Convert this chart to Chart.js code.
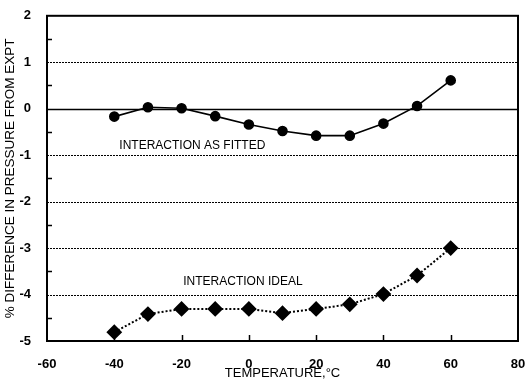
<!DOCTYPE html>
<html>
<head>
<meta charset="utf-8">
<script src="https://cdn.jsdelivr.net/npm/chart.js@4"></script>
<style>
  html, body { margin: 0; padding: 0; background: #fff; }
  #wrap { width: 527px; height: 382px; }
</style>
</head>
<body>
<div id="wrap"><canvas id="chart" width="527" height="382"></canvas></div>
<script>
  // data
  const temps = [-40, -30, -20, -10, 0, 10, 20, 30, 40, 50, 60];
  const fitted = [-0.17, 0.03, 0.01, -0.16, -0.34, -0.48, -0.58, -0.58, -0.32, 0.06, 0.61];
  const ideal = [-4.81, -4.42, -4.31, -4.31, -4.31, -4.40, -4.31, -4.21, -3.99, -3.59, -3.0];
  const xTicks = [-60, -40, -20, 0, 20, 40, 60, 80];
  const yTicks = [2, 1, 0, -1, -2, -3, -4, -5];
  const notes = [
    { text: 'INTERACTION AS FITTED', x: -38.5, y: -0.8 },
    { text: 'INTERACTION IDEAL', x: -19.5, y: -3.72 }
  ];

  const fontFam = '"Liberation Sans", Arial, sans-serif';
  const toPoints = vals => vals.map((v, i) => ({ x: temps[i], y: v }));

  // frame, grid lines, inner ticks and the two labels
  const framePlugin = {
    id: 'frame',
    beforeDatasetsDraw(chart) {
      const { ctx, chartArea: a, scales: { x, y } } = chart;
      ctx.save();
      ctx.strokeStyle = '#000';
      // horizontal grid
      yTicks.forEach(v => {
        if (v === 2 || v === -5) return;
        const py = Math.round(y.getPixelForValue(v)) + 0.5;
        ctx.beginPath();
        if (v === 0) {
          ctx.setLineDash([]);
          ctx.lineWidth = 1.5;
        } else {
          ctx.setLineDash([2, 1]);
          ctx.lineWidth = 1.2;
        }
        ctx.moveTo(a.left, py);
        ctx.lineTo(a.right, py);
        ctx.stroke();
      });
      ctx.setLineDash([]);
      ctx.lineWidth = 1.5;
      // half-unit ticks on the left axis
      for (let v = -4.5; v < 2; v += 1) {
        const py = Math.round(y.getPixelForValue(v)) + 0.5;
        ctx.beginPath();
        ctx.moveTo(a.left, py);
        ctx.lineTo(a.left + 5, py);
        ctx.stroke();
      }
      // x ticks up from the bottom axis
      xTicks.forEach(v => {
        if (v === -60 || v === 80) return;
        const px = Math.round(x.getPixelForValue(v)) + 0.5;
        ctx.beginPath();
        ctx.moveTo(px, a.bottom);
        ctx.lineTo(px, a.bottom - 6);
        ctx.stroke();
      });
      // box
      ctx.lineWidth = 2;
      ctx.strokeRect(a.left, a.top, a.right - a.left, a.bottom - a.top);
      // labels
      ctx.fillStyle = '#000';
      ctx.font = '12px ' + fontFam;
      ctx.textBaseline = 'middle';
      ctx.textAlign = 'left';
      notes.forEach(n => {
        ctx.fillText(n.text, x.getPixelForValue(n.x), y.getPixelForValue(n.y));
      });
      ctx.restore();
    }
  };

  new Chart(document.getElementById('chart'), {
    type: 'line',
    data: {
      datasets: [
        {
          label: 'Interaction as fitted',
          data: toPoints(fitted),
          borderColor: '#000',
          backgroundColor: '#000',
          borderWidth: 1.6,
          pointStyle: 'circle',
          pointRadius: 4.5,
          tension: 0
        },
        {
          label: 'Interaction ideal',
          data: toPoints(ideal),
          borderColor: '#000',
          backgroundColor: '#000',
          borderWidth: 2,
          borderDash: [2, 2],
          pointStyle: 'rectRot',
          pointRadius: 6.5,
          tension: 0
        }
      ]
    },
    options: {
      responsive: false,
      animation: false,
      layout: { padding: { top: 15, right: 9, left: 0, bottom: 0 } },
      plugins: {
        legend: { display: false },
        tooltip: { enabled: false }
      },
      scales: {
        x: {
          type: 'linear',
          min: -60,
          max: 80,
          afterBuildTicks: s => { s.ticks = xTicks.map(v => ({ value: v })); },
          afterFit: s => { s.height = 41; s.paddingLeft = 0; s.paddingRight = 0; },
          grid: { display: false },
          border: { display: false },
          ticks: {
            color: '#000',
            padding: 8,
            maxRotation: 0,
            font: { family: fontFam, size: 13, weight: 'bold' }
          },
          title: {
            display: true,
            text: 'TEMPERATURE,°C',
            color: '#000',
            padding: { top: 0, bottom: 1 },
            font: { family: fontFam, size: 13 }
          }
        },
        y: {
          min: -5,
          max: 2,
          afterBuildTicks: s => { s.ticks = yTicks.map(v => ({ value: v })); },
          afterFit: s => { s.width = 47; },
          grid: { display: false },
          border: { display: false },
          ticks: {
            color: '#000',
            padding: 8,
            font: { family: fontFam, size: 13, weight: 'bold' }
          },
          title: {
            display: true,
            text: '% DIFFERENCE IN PRESSURE FROM EXPT',
            color: '#000',
            padding: { top: 2, bottom: 0 },
            font: { family: fontFam, size: 13.5 }
          }
        }
      }
    },
    plugins: [framePlugin]
  });
</script>
</body>
</html>
